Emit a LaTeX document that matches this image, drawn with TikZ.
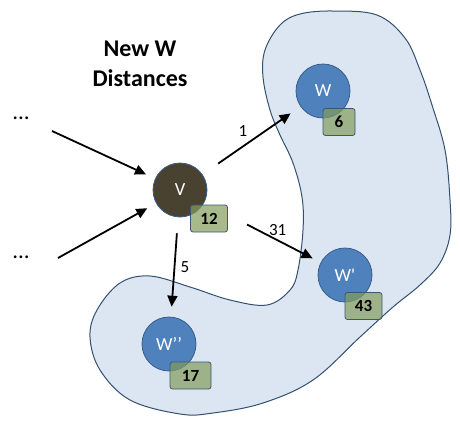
\documentclass[tikz,border=0pt]{standalone}
\usepackage{fontspec}
\setmainfont{Carlito}
\usetikzlibrary{arrows.meta,positioning,calc}
\definecolor{blobfill}{HTML}{DCE6F2}
\definecolor{blobline}{HTML}{34506F}
\definecolor{wblue}{HTML}{4F81BD}
\definecolor{wline}{HTML}{385D8A}
\definecolor{vbrown}{HTML}{4A4231}
\definecolor{boxgreen}{HTML}{839C5B}
\definecolor{boxline}{HTML}{3B5773}

\begin{document}
\begin{tikzpicture}[x=1pt,y=-1pt,
  vertex/.style={circle,draw=wline,line width=0.8pt,fill=wblue,minimum size=54pt,
                 inner sep=0pt,text=white,font=\fontsize{18.5}{22}\selectfont},
  distbox/.style={draw=boxline,line width=0.8pt,rounded corners=2.5pt,fill=boxgreen,
                  fill opacity=0.7,text opacity=1,minimum width=37pt,minimum height=27pt,
                  inner sep=0pt,font=\fontsize{17}{20}\selectfont\bfseries},
  link/.style={line width=1.8pt,-{Triangle[length=11pt,width=10pt]}},
  weight/.style={font=\fontsize{17}{20}\selectfont}]
\useasboundingbox (0,0) rectangle (460,424);

% the set of W vertices
\draw[blobline,line width=1pt,fill=blobfill] plot[smooth cycle,tension=0.6] coordinates {
  (333,11) (377,15) (405,38) (420,70) (432,105) (445,150) (450,200) (450,235)
  (440,263) (420,285) (393,307) (360,337) (313,380) (263,403) (213,413) (180,414)
  (130,400) (100,370) (90,337) (97,310) (120,283) (150,276) (190,287) (230,300)
  (267,305) (290,290) (298,270) (303,230) (302,197) (293,163) (280,135) (270,110)
  (263,77) (265,50) (280,25) (300,14)};

\node[font=\fontsize{24}{30}\selectfont\bfseries,align=center] (title) at (140,64) {New W\\Distances};
\node[font=\fontsize{23}{26}\selectfont] (dots1) at (21,118) {...};
\node[font=\fontsize{23}{26}\selectfont] (dots2) at (21,257) {...};

\node[vertex,fill=vbrown] (V) at (180,190) {V};
\node[vertex] (W) at (323,91) {W};
\node[vertex] (W1) at (345,275) {W\textquotesingle};
\node[vertex] (W2) at (169,344) {W’’};

% distance labels
\node[distbox] (dV) at ([shift={(29,28.5)}]V.center) {12};
\node[distbox,minimum width=32pt] (dW) at ([shift={(16,31)}]W.center) {6};
\node[distbox] (dW1) at ([shift={(18.5,31)}]W1.center) {43};
\node[distbox,minimum width=41pt] (dW2) at ([shift={(21.5,31.5)}]W2.center) {17};

\coordinate (in1) at (52,131);
\coordinate (in2) at (58,258);
\draw[link,shorten >=10pt] (in1) -- (V);
\draw[link,shorten >=10pt] (in2) -- (V);

\draw[link,shorten <=19pt,shorten >=12pt] (V) -- node[weight,above left,pos=0.5]{1} (W);
\draw[link,shorten <=48pt,shorten >=9pt] (V) -- node[weight,above,pos=0.63]{31} (W1);
\draw[link,shorten <=16pt,shorten >=10pt] (V) -- node[weight,right,xshift=2pt]{5} (W2);
\end{tikzpicture}
\end{document}
